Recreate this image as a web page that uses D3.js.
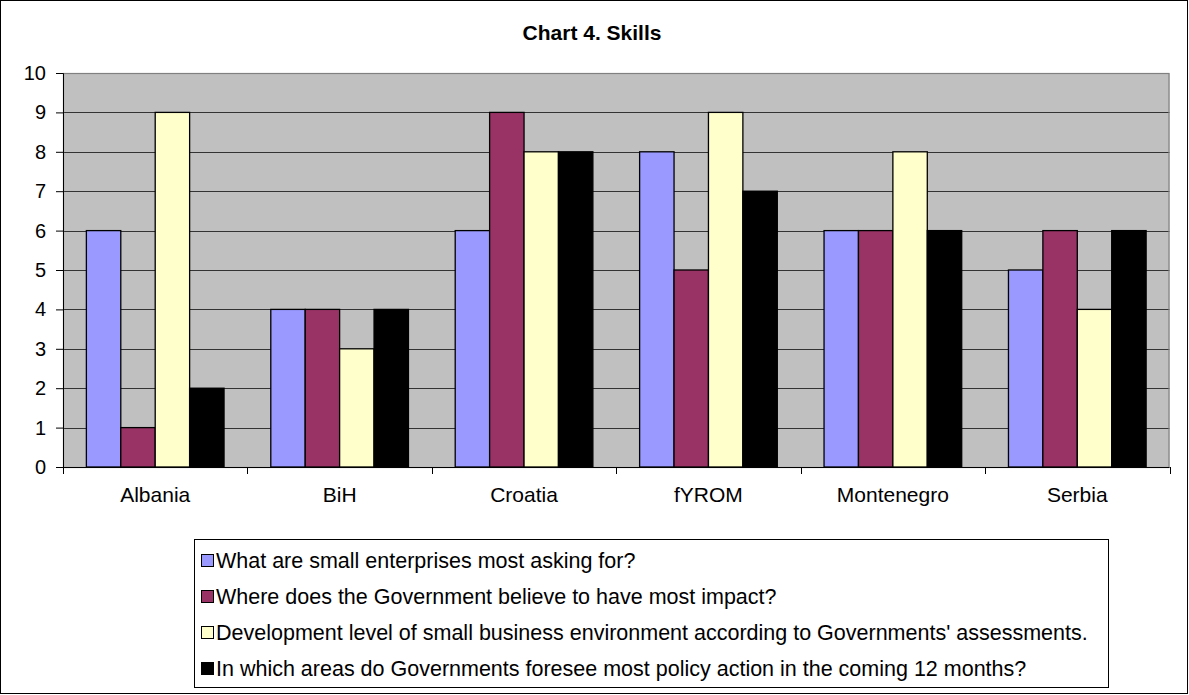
<!DOCTYPE html>
<html>
<head>
<meta charset="utf-8">
<script src="https://cdn.jsdelivr.net/npm/d3@7/dist/d3.min.js"></script>
<style>
  html, body { margin: 0; padding: 0; background: #fff; }
  svg { display: block; font-family: "Liberation Sans", Arial, sans-serif; }
</style>
</head>
<body>
<svg id="chart" width="1189" height="695"></svg>
<script>
// Countries on the x axis
const countries = ["Albania", "BiH", "Croatia", "fYROM", "Montenegro", "Serbia"];

// Series names (legend order)
const seriesNames = [
  "What are small enterprises most asking for?",
  "Where does the Government believe to have most impact?",
  "Development level of small business environment according to Governments' assessments.",
  "In which areas do Governments foresee most policy action in the coming 12 months?"
];

// Values per series, one per country
const askingFor    = [6, 4, 6, 8, 6, 5];
const mostImpact   = [1, 4, 9, 5, 6, 6];
const devLevel     = [9, 3, 8, 9, 8, 4];
const policyAction = [2, 4, 8, 7, 6, 6];

const yTicks = [0, 1, 2, 3, 4, 5, 6, 7, 8, 9, 10];
const colors = ["#9999FF", "#993366", "#FFFFCC", "#000000"];

const seriesValues = [askingFor, mostImpact, devLevel, policyAction];

const svg = d3.select("#chart");
const W = 1189, H = 695;

// outer frame
svg.append("rect")
  .attr("x", 0.5).attr("y", 0.5)
  .attr("width", W - 2).attr("height", H - 2)
  .attr("fill", "#fff").attr("stroke", "#000").attr("stroke-width", 1);

// title
svg.append("text")
  .attr("x", 592).attr("y", 40)
  .attr("text-anchor", "middle")
  .attr("font-size", 21).attr("font-weight", "bold")
  .text("Chart 4. Skills");

const plot = { left: 63, top: 73, right: 1169.5, bottom: 467 };

const x0 = d3.scaleBand()
  .domain(countries)
  .range([plot.left, plot.right])
  .paddingInner(0).paddingOuter(0);

const groupPad = 0.2535; // gap between clusters as a fraction of category width
const x1 = d3.scaleBand()
  .domain(d3.range(seriesNames.length))
  .range([x0.bandwidth() * groupPad / 2, x0.bandwidth() * (1 - groupPad / 2)])
  .padding(0);

const y = d3.scaleLinear().domain([0, 10]).range([plot.bottom, plot.top]);

// plot background
svg.append("rect")
  .attr("x", plot.left).attr("y", plot.top)
  .attr("width", plot.right - plot.left).attr("height", plot.bottom - plot.top)
  .attr("fill", "#C0C0C0");

// gridlines
svg.append("g")
  .selectAll("line")
  .data(yTicks.filter(d => d > 0 && d < 10))
  .join("line")
  .attr("x1", plot.left).attr("x2", plot.right)
  .attr("y1", d => Math.round(y(d)) + 0.5).attr("y2", d => Math.round(y(d)) + 0.5)
  .attr("stroke", "#333").attr("stroke-width", 1);

// plot border
svg.append("rect")
  .attr("x", plot.left + 0.5).attr("y", plot.top + 0.5)
  .attr("width", plot.right - plot.left - 1).attr("height", plot.bottom - plot.top)
  .attr("fill", "none").attr("stroke", "#808080").attr("stroke-width", 1.2);

// bars
const groups = svg.append("g")
  .selectAll("g")
  .data(countries)
  .join("g")
  .attr("transform", d => `translate(${x0(d)},0)`);

groups.selectAll("rect")
  .data((d, i) => seriesValues.map((vals, s) => ({ s, v: vals[i] })))
  .join("rect")
  .attr("x", d => x1(d.s))
  .attr("y", d => y(d.v))
  .attr("width", x1.bandwidth())
  .attr("height", d => y(0) - y(d.v))
  .attr("fill", d => colors[d.s])
  .attr("stroke", "#000")
  .attr("stroke-width", 1.3);

// y axis
const yAxis = d3.axisLeft(y).tickValues(yTicks).tickSize(7).tickPadding(10);
const gy = svg.append("g")
  .attr("transform", `translate(${plot.left},0)`)
  .call(yAxis);
gy.select(".domain").attr("stroke", "#000");
gy.selectAll(".tick line").attr("stroke", "#000");
gy.selectAll(".tick text")
  .attr("font-size", 20).attr("fill", "#000")
  .attr("font-family", "Liberation Sans, Arial, sans-serif");

// x axis: ticks at category boundaries, labels centred under each group
const xAxisG = svg.append("g").attr("transform", `translate(0,${plot.bottom})`);
xAxisG.append("line")
  .attr("x1", plot.left).attr("x2", plot.right)
  .attr("y1", 0.5).attr("y2", 0.5)
  .attr("stroke", "#000");
const boundaries = countries.map(c => x0(c)).concat([plot.right]);
xAxisG.selectAll("line.tk")
  .data(boundaries)
  .join("line")
  .attr("class", "tk")
  .attr("x1", d => Math.round(d) + 0.5).attr("x2", d => Math.round(d) + 0.5)
  .attr("y1", 0).attr("y2", 7)
  .attr("stroke", "#000");
xAxisG.selectAll("text")
  .data(countries)
  .join("text")
  .attr("x", d => x0(d) + x0.bandwidth() / 2)
  .attr("y", 35)
  .attr("text-anchor", "middle")
  .attr("font-size", 21)
  .text(d => d);

// legend
const legend = svg.append("g");
legend.append("rect")
  .attr("x", 194.5).attr("y", 539.5)
  .attr("width", 914).attr("height", 148)
  .attr("fill", "#fff").attr("stroke", "#000").attr("stroke-width", 1);

const items = legend.selectAll("g.item")
  .data(seriesNames)
  .join("g")
  .attr("class", "item")
  .attr("transform", (d, i) => `translate(0,${560 + i * 36})`);

items.append("rect")
  .attr("x", 201.5).attr("y", -5.5)
  .attr("width", 12).attr("height", 12)
  .attr("fill", (d, i) => colors[i])
  .attr("stroke", "#000").attr("stroke-width", 1);

items.append("text")
  .attr("x", 216).attr("y", 8)
  .attr("font-size", 21.5)
  .text(d => d);
</script>
</body>
</html>
